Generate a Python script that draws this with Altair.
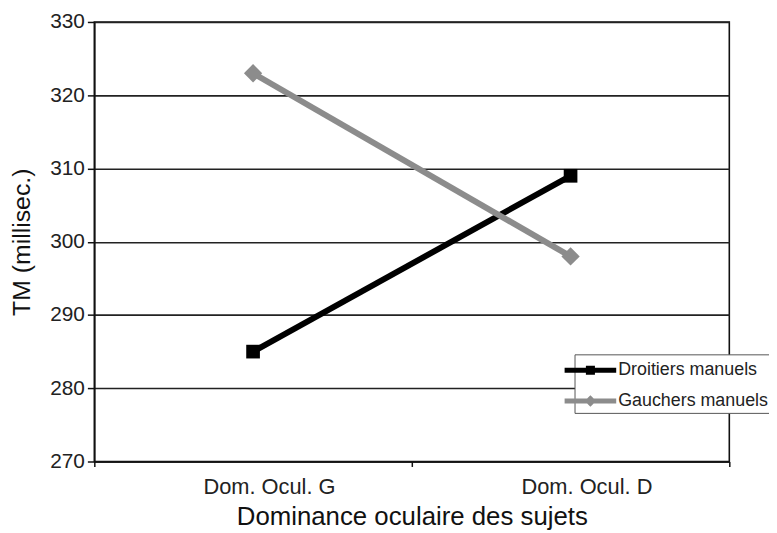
import altair as alt
import pandas as pd

categories = ["Dom. Ocul. G", "Dom. Ocul. D"]
series_names = ["Droitiers manuels", "Gauchers manuels"]
droitiers = [285, 309]
gauchers = [323, 298]
y_ticks = [270, 280, 290, 300, 310, 320, 330]
colors = ["#000000", "#8c8c8c"]
marker_shapes = ["square", "diamond"]
marker_sizes = [190, 340]
legend_paths = [
    "M-2,-0.2L2,-0.2L2,0.2L-2,0.2Z M-0.35,-0.35L0.35,-0.35L0.35,0.35L-0.35,0.35Z",
    "M-2,-0.2L2,-0.2L2,0.2L-2,0.2Z M0,-0.45L0.45,0L0,0.45L-0.45,0Z",
]

rows = []
for s, vals in zip(series_names, [droitiers, gauchers]):
    for c, v in zip(categories, vals):
        rows.append({"condition": c, "series": s, "tm": v})
df = pd.DataFrame(rows)

FONT = "Liberation Sans"

x_enc = alt.X(
    "condition:N",
    sort=categories,
    bandPosition=0.5,
    scale=alt.Scale(type="band", domain=categories, paddingInner=0, paddingOuter=0),
    axis=alt.Axis(
        title="Dominance oculaire des sujets",
        labelAngle=0,
        tickBand="extent",
        tickSize=5,
        labelPadding=10,
        labelOffset=16,
        labelFontSize=22,
        titleFontSize=26,
        titlePadding=7,
    ),
)
y_enc = alt.Y(
    "tm:Q",
    scale=alt.Scale(domain=[270, 330], nice=False, zero=False),
    axis=alt.Axis(
        values=y_ticks,
        title="TM (millisec.)",
        grid=True,
        gridColor="#222222",
        gridWidth=1.6,
        tickSize=7,
        labelPadding=3,
        labelFontSize=21,
        titleFontSize=25,
        titlePadding=15,
    ),
)

base = alt.Chart(df)

layers = []
for name, col in zip(series_names, colors):
    sub = base.transform_filter(alt.datum.series == name)
    layers.append(
        sub.mark_line(strokeWidth=6).encode(x=x_enc, y=y_enc, color=alt.value(col))
    )
for name, col, shp, sz in zip(series_names, colors, marker_shapes, marker_sizes):
    sub = base.transform_filter(alt.datum.series == name)
    layers.append(
        sub.mark_point(filled=True, opacity=1, shape=shp, size=sz).encode(
            x=x_enc, y=y_enc, color=alt.value(col)
        )
    )

legend_layer = base.mark_point(filled=True, opacity=0).encode(
    x=x_enc, y=y_enc,
    color=alt.Color("series:N", scale=alt.Scale(domain=series_names, range=colors), title=None),
    shape=alt.Shape("series:N", scale=alt.Scale(domain=series_names, range=legend_paths), title=None),
)
layers.append(legend_layer)

chart = (
    alt.layer(*layers)
    .properties(
        width=640,
        height=443,
        padding={"left": 87, "top": 12, "right": 40, "bottom": 72},
        autosize=alt.AutoSizeParams(type="none"),
    )
    .configure_view(stroke="#111111", strokeWidth=1.6)
    .configure_axis(
        labelFont=FONT,
        titleFont=FONT,
        labelColor="#222222",
        titleColor="#111111",
        titleFontWeight="normal",
        domainColor="#111111",
        domainWidth=1.6,
        tickColor="#111111",
        tickWidth=1.5,
    )
    .configure_legend(
        orient="none",
        legendX=484,
        legendY=335,
        strokeColor="#555555",
        fillColor="#ffffff",
        padding=3,
        symbolSize=676,
        symbolStrokeWidth=0,
        symbolOpacity=1,
        labelFont=FONT,
        labelFontSize=18,
        labelColor="#222222",
        labelOffset=15,
        rowPadding=9,
        cornerRadius=0,
    )
)

chart.save("out.html", embed_options={"renderer": "svg", "actions": False})
